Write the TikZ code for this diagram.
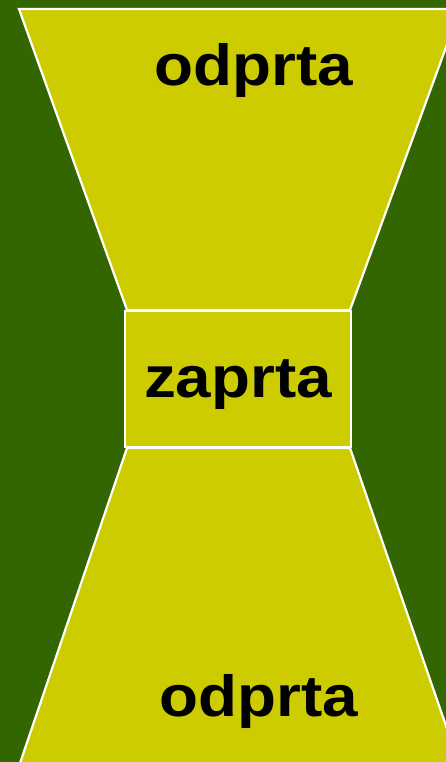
\documentclass[tikz,border=0pt]{standalone}
\usepackage{fontspec}
\setmainfont{Liberation Sans}
\usepackage{xcolor}
\definecolor{bgGreen}{HTML}{336600}
\definecolor{valveYellow}{HTML}{CCCC00}

\begin{document}
\begin{tikzpicture}[
				x=1pt, y=-1pt,
				part/.style={fill=valveYellow, draw=white, line width=2.2pt, line join=miter},
				label/.style={font=\fontsize{58}{60}\selectfont\bfseries, text=black, anchor=base, inner sep=0pt, xscale=1.1}
				]
				% Background
				\useasboundingbox (0,0) rectangle (446,762);
				\fill [bgGreen] (0,0) rectangle (446,762);
				
				% Shapes
				\draw [part] (19,9) -- (460,9) -- (350,310) -- (127,310) -- cycle;
				\draw [part] (127,448) -- (350,448) -- (462,772) -- (17,772) -- cycle;
				\draw [part] (125,311) rectangle (351,447);
				
				% Labels
				\node (top) [label] at (254,86) {odprta};
				\node (mid) [label] at (238,397) {zaprta};
				\node (bottom) [label] at (259,716) {odprta};
			\end{tikzpicture}
\end{document}
